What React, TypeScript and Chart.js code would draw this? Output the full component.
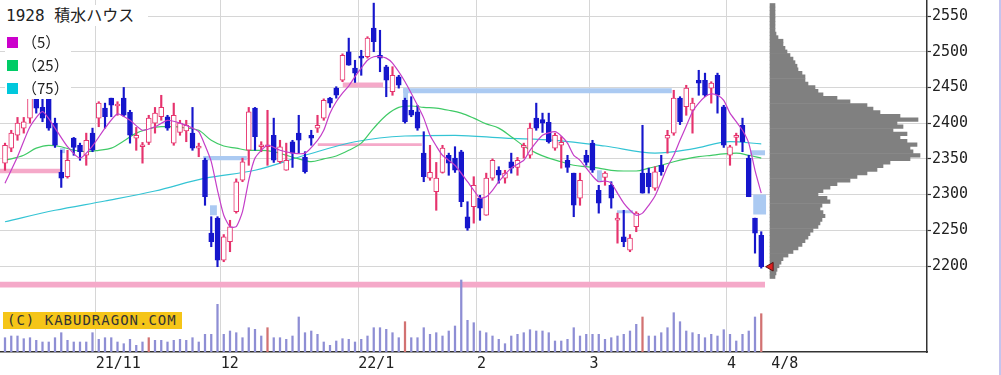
import React, { useEffect, useRef } from "react";
import { Chart, registerables } from "chart.js";

Chart.register(...registerables);

// ---------- daily candles (index 0 = first visible trading day) ----------
const opens = [
  2344, 2365, 2383, 2393, 2407, 2435, 2422, 2435, 2400, 2331,
  2325, 2379, 2369, 2355, 2386, 2407, 2421, 2435, 2424, 2435,
  2415, 2379, 2367, 2373, 2400, 2409, 2409, 2372, 2387, 2389,
  2386, 2365, 2348, 2246, 2267, 2208, 2234, 2276, 2320, 2362,
  2421, 2367, 2367, 2383, 2346, 2334, 2374, 2386, 2352, 2383,
  2393, 2407, 2435, 2449, 2460, 2500, 2477, 2493, 2493, 2533,
  2495, 2479, 2444, 2465, 2432, 2418, 2416, 2358, 2323, 2304,
  2331, 2355, 2351, 2360, 2269, 2283, 2295, 2271, 2323, 2334,
  2323, 2346, 2338, 2366, 2355, 2407, 2405, 2401, 2365, 2369,
  2348, 2330, 2295, 2355, 2372, 2306, 2324, 2313, 2264, 2241,
  2222, 2255, 2330, 2330, 2309, 2341, 2379, 2386, 2435, 2423,
  2418, 2460, 2460, 2449, 2467, 2423, 2355, 2380, 2397, 2351,
  2267, 2243,
];
const highs = [
  2372, 2390, 2408, 2408, 2439, 2438, 2435, 2435, 2407, 2362,
  2362, 2380, 2372, 2386, 2393, 2430, 2428, 2435, 2430, 2450,
  2418, 2394, 2373, 2411, 2422, 2439, 2411, 2428, 2404, 2404,
  2422, 2372, 2351, 2269, 2269, 2244, 2264, 2322, 2351, 2422,
  2422, 2374, 2418, 2407, 2376, 2372, 2376, 2411, 2360, 2390,
  2411, 2434, 2436, 2451, 2497, 2519, 2488, 2502, 2521, 2568,
  2530, 2481, 2479, 2467, 2435, 2437, 2425, 2388, 2369, 2345,
  2369, 2358, 2367, 2362, 2290, 2325, 2299, 2330, 2350, 2339,
  2334, 2358, 2352, 2372, 2400, 2428, 2414, 2414, 2386, 2381,
  2355, 2330, 2330, 2362, 2376, 2313, 2332, 2318, 2274, 2278,
  2244, 2276, 2397, 2337, 2339, 2355, 2390, 2446, 2437, 2453,
  2435, 2474, 2470, 2458, 2470, 2425, 2369, 2386, 2407, 2355,
  2267, 2248,
];
const lows = [
  2334, 2360, 2376, 2386, 2400, 2414, 2402, 2390, 2366, 2310,
  2323, 2355, 2348, 2341, 2360, 2395, 2393, 2409, 2411, 2409,
  2372, 2362, 2344, 2370, 2386, 2404, 2390, 2369, 2383, 2374,
  2362, 2353, 2285, 2227, 2199, 2206, 2220, 2274, 2318, 2341,
  2362, 2360, 2341, 2345, 2344, 2334, 2338, 2358, 2330, 2369,
  2387, 2404, 2422, 2435, 2458, 2481, 2457, 2467, 2491, 2500,
  2472, 2437, 2439, 2449, 2400, 2409, 2390, 2318, 2320, 2278,
  2330, 2327, 2331, 2283, 2250, 2260, 2264, 2271, 2320, 2316,
  2316, 2330, 2327, 2351, 2351, 2390, 2387, 2372, 2362, 2337,
  2331, 2269, 2285, 2341, 2331, 2274, 2313, 2281, 2232, 2227,
  2220, 2248, 2302, 2302, 2306, 2327, 2358, 2383, 2398, 2411,
  2386, 2439, 2437, 2428, 2414, 2366, 2341, 2369, 2360, 2297,
  2218, 2197,
];
const closes = [
  2369, 2386, 2400, 2402, 2435, 2421, 2407, 2393, 2369, 2323,
  2348, 2366, 2360, 2376, 2362, 2428, 2409, 2425, 2426, 2411,
  2383, 2383, 2369, 2407, 2414, 2422, 2393, 2411, 2400, 2397,
  2365, 2367, 2297, 2234, 2208, 2241, 2255, 2318, 2346, 2416,
  2381, 2369, 2369, 2348, 2367, 2348, 2358, 2376, 2332, 2379,
  2397, 2432, 2428, 2439, 2495, 2481, 2470, 2491, 2519, 2514,
  2491, 2460, 2467, 2453, 2402, 2411, 2393, 2325, 2331, 2323,
  2365, 2344, 2334, 2290, 2253, 2313, 2281, 2323, 2348, 2327,
  2330, 2337, 2348, 2368, 2393, 2393, 2400, 2374, 2383, 2373,
  2338, 2285, 2320, 2345, 2334, 2288, 2330, 2295, 2267, 2234,
  2239, 2274, 2302, 2311, 2332, 2332, 2383, 2435, 2402, 2449,
  2428, 2456, 2439, 2456, 2439, 2369, 2367, 2383, 2374, 2297,
  2246, 2199,
];
// volume, thousand shares
const volumes = [
  1430, 1600, 1600, 1330, 1430, 1170, 1000, 1000, 1430, 1930,
  1170, 1000, 1000, 1000, 1930, 1270, 1430, 1430, 1000, 830,
  1270, 670, 1000, 1430, 1170, 1170, 1000, 1170, 1270, 1170,
  1430, 1000, 1770, 1770, 4770, 1770, 2100, 1930, 1430, 2430,
  2270, 1600, 2430, 1430, 1430, 1270, 1600, 3500, 1930, 2100,
  1770, 1000, 670, 1100, 1330, 1270, 1000, 1270, 1600, 2430,
  2430, 2270, 1930, 1430, 3030, 1430, 1430, 2430, 1770, 1930,
  1600, 2100, 2600, 7200, 3170, 2930, 2100, 1930, 1600, 1270,
  830, 1600, 1770, 1930, 2230, 2100, 2100, 1930, 1100, 1100,
  1270, 2430, 1600, 1770, 1770, 1770, 1270, 1430, 1600, 1770,
  2100, 2770, 3500, 1600, 1600, 1930, 2430, 3930, 3030, 2100,
  1930, 1770, 1430, 1770, 1600, 2230, 1770, 1100, 1770, 2100,
  3500, 3830,
];
const redVolumeDays = [23, 42, 64, 102, 121];

// moving averages: [day index, value]
const ma5Points = [
  [0, 2316], [2, 2353], [4, 2395], [6, 2416], [8, 2393], [10, 2367], [12, 2351], [14, 2368],
  [16, 2393], [18, 2413], [20, 2404], [22, 2390], [24, 2395], [26, 2404], [28, 2400], [30, 2393],
  [31, 2388], [32, 2369], [33, 2346], [34, 2306], [35, 2271], [36, 2255], [37, 2255], [38, 2276],
  [39, 2320], [40, 2351], [42, 2369], [44, 2362], [46, 2358], [48, 2358], [50, 2376], [51, 2390],
  [52, 2414], [53, 2430], [54, 2442], [55, 2452], [56, 2465], [57, 2477], [58, 2488], [59, 2493],
  [60, 2493], [61, 2491], [62, 2484], [64, 2458], [66, 2425], [67, 2407], [68, 2383], [69, 2368],
  [70, 2355], [72, 2341], [74, 2318], [75, 2306], [76, 2295], [77, 2297], [78, 2306], [79, 2318],
  [81, 2337], [83, 2348], [84, 2362], [86, 2383], [88, 2388], [89, 2382], [90, 2372], [91, 2355],
  [92, 2348], [94, 2326], [95, 2318], [96, 2319], [97, 2316], [98, 2302], [99, 2288], [100, 2278],
  [101, 2271], [102, 2274], [103, 2285], [104, 2298], [105, 2318], [106, 2339], [107, 2355],
  [108, 2376], [109, 2396], [110, 2416], [111, 2428], [112, 2437], [113, 2441], [114, 2439],
  [115, 2432], [116, 2414], [117, 2402], [118, 2390], [119, 2372], [120, 2334], [121, 2302],
];
const ma25Points = [
  [0, 2348], [3, 2355], [5, 2365], [7, 2369], [9, 2367], [11, 2362], [13, 2360], [15, 2362],
  [17, 2365], [19, 2375], [21, 2386], [23, 2392], [25, 2395], [27, 2395], [29, 2393], [31, 2390],
  [33, 2376], [35, 2368], [37, 2365], [39, 2362], [41, 2362], [43, 2360], [45, 2355], [47, 2350],
  [49, 2346], [51, 2350], [53, 2354], [55, 2362], [57, 2372], [59, 2393], [61, 2411], [63, 2422],
  [65, 2424], [67, 2422], [69, 2421], [71, 2418], [73, 2414], [75, 2407], [77, 2399], [79, 2393],
  [81, 2381], [83, 2368], [85, 2358], [87, 2351], [89, 2346], [91, 2341], [93, 2339], [95, 2337],
  [97, 2334], [99, 2333], [101, 2333], [103, 2337], [105, 2341], [107, 2346], [109, 2350],
  [111, 2353], [113, 2355], [115, 2357], [117, 2358], [119, 2355], [121, 2351],
];
const ma75Points = [
  [0, 2262], [8, 2278], [16, 2291], [24, 2305], [32, 2323], [40, 2334], [48, 2355], [56, 2374],
  [64, 2382], [72, 2383], [80, 2379], [88, 2376], [96, 2368], [104, 2358], [110, 2364],
  [116, 2374], [121, 2371],
];

// support / resistance zones: [from day, to day, low price, high price]
const pinkZones = [
  [-0.8, 8.8, 2330, 2336],
  [54, 60.5, 2450, 2457],
  [50, 66.7, 2368, 2372],
  [-0.8, 121.6, 2170, 2178],
];
const blueZones = [
  [31.7, 38.7, 2348, 2354],
  [63.7, 106.7, 2442, 2449],
  [119.2, 121.6, 2355, 2362],
  [8.8, 9.6, 2358, 2365],
  [32.8, 33.9, 2271, 2285],
  [63.7, 64.5, 2432, 2449],
  [94.7, 95.5, 2318, 2334],
  [97.9, 100.5, 2274, 2278],
  [119.7, 121.8, 2272, 2300],
];

// volume-by-price profile
const profilePrices = [
  2565, 2560, 2555, 2550, 2545, 2540, 2535, 2530, 2525, 2520,
  2515, 2510, 2505, 2500, 2495, 2490, 2485, 2480, 2475, 2470,
  2465, 2460, 2455, 2450, 2445, 2440, 2435, 2430, 2425, 2420,
  2415, 2410, 2405, 2400, 2395, 2390, 2385, 2380, 2375, 2370,
  2365, 2360, 2355, 2350, 2345, 2340, 2335, 2330, 2325, 2320,
  2315, 2310, 2305, 2300, 2295, 2290, 2285, 2280, 2275, 2270,
  2265, 2260, 2255, 2250, 2245, 2240, 2235, 2230, 2225, 2220,
  2215, 2210, 2205, 2200, 2195, 2190, 2185,
];
const profileVolumes = [
  5, 5, 5, 5, 5, 5, 5, 5, 6, 8,
  13, 13, 15, 17, 20, 23, 25, 27, 28, 32,
  35, 35, 38, 45, 48, 53, 67, 80, 97, 103,
  110, 130, 148, 127, 133, 123, 137, 130, 137, 147,
  140, 143, 150, 140, 120, 113, 107, 97, 87, 80,
  67, 60, 53, 48, 57, 60, 52, 50, 53, 55,
  52, 50, 48, 43, 40, 38, 35, 32, 28, 23,
  18, 13, 11, 9, 7, 6, 5,
];
const lastPrice = 2199;
const lastPriceAt = 122.5;

const xTickPositions = [14.5, 34.5, 56.5, 75.5, 93.5, 115.5, 122.6];
const xTickLabels = ["21/11", "12", "22/1", "2", "3", "4", "4/8"];
const yTicks = [2200, 2250, 2300, 2350, 2400, 2450, 2500, 2550];

// ---------- styles ----------
const UP = "#e6336d";
const DOWN = "#1616cc";
const PINK = "#f5a9c9";
const BLUE = "#abcaf2";
const GRID = "#d6d6d6";
const Y_MIN = 2079.6;
const Y_MAX = 2572.4;

function buildConfig() {
  const idx = opens.map((_, i) => i);
  const up = idx.map((i) => closes[i] >= opens[i]);

  const zoneDatasets = [
    ...pinkZones.map((z) => ({ z, c: PINK })),
    ...blueZones.map((z) => ({ z, c: BLUE })),
  ].map(({ z, c }) => ({
    type: "line",
    data: [
      { x: z[0], y: z[3] },
      { x: z[1], y: z[3] },
    ],
    xAxisID: "x",
    yAxisID: "y",
    borderColor: "rgba(0,0,0,0)",
    borderWidth: 1,
    backgroundColor: c,
    fill: { value: z[2] },
    pointRadius: 0,
    order: 20,
  }));

  const datasets: any[] = [
    ...zoneDatasets,
    {
      type: "bar",
      indexAxis: "y",
      xAxisID: "xh",
      yAxisID: "yh",
      data: profilePrices.map((p, k) => ({ y: p, x: [0, profileVolumes[k]] })),
      backgroundColor: "#808080",
      borderWidth: 0,
      barPercentage: 1,
      categoryPercentage: 1,
      grouped: false,
      order: 19,
    },
    {
      type: "bar",
      xAxisID: "x",
      yAxisID: "yv",
      data: idx.map((i) => ({ x: i, y: volumes[i] })),
      backgroundColor: idx.map((i) => (redVolumeDays.includes(i) ? "#d27272" : "#8e8ed4")),
      borderWidth: 0,
      barThickness: 1.6,
      grouped: false,
      order: 18,
    },
    {
      type: "line",
      label: "(75)",
      data: ma75Points.map(([x, y]) => ({ x, y })),
      borderColor: "#34c4d4",
      borderWidth: 1.2,
      pointRadius: 0,
      cubicInterpolationMode: "monotone",
      fill: false,
      order: 12,
    },
    {
      type: "line",
      label: "(25)",
      data: ma25Points.map(([x, y]) => ({ x, y })),
      borderColor: "#3fca66",
      borderWidth: 1.2,
      pointRadius: 0,
      cubicInterpolationMode: "monotone",
      fill: false,
      order: 11,
    },
    {
      type: "bar",
      xAxisID: "x",
      yAxisID: "y",
      data: idx.map((i) => ({ x: i, y: [lows[i], highs[i]] })),
      backgroundColor: up.map((u) => (u ? UP : DOWN)),
      borderWidth: 0,
      barThickness: 1.5,
      grouped: false,
      order: 8,
    },
    {
      type: "bar",
      xAxisID: "x",
      yAxisID: "y",
      data: idx.map((i) => ({ x: i, y: [opens[i], closes[i]] })),
      backgroundColor: up.map((u) => (u ? "#ffffff" : DOWN)),
      borderColor: up.map((u) => (u ? UP : DOWN)),
      borderWidth: 1,
      borderSkipped: false,
      barThickness: 5,
      minBarLength: 2,
      grouped: false,
      order: 7,
    },
    {
      type: "line",
      label: "(5)",
      data: ma5Points.map(([x, y]) => ({ x, y })),
      borderColor: "#c43ec8",
      borderWidth: 1.2,
      pointRadius: 0,
      tension: 0.2,
      fill: false,
      order: 2,
    },
    {
      type: "line",
      data: [{ x: lastPriceAt, y: lastPrice }],
      showLine: false,
      pointStyle: "triangle",
      rotation: -90,
      pointRadius: 5,
      backgroundColor: "#e02020",
      borderColor: "#5a1010",
      borderWidth: 1,
      order: 0,
    },
  ];

  return {
    type: "bar",
    data: { datasets },
    options: {
      responsive: false,
      maintainAspectRatio: false,
      animation: false,
      devicePixelRatio: 1,
      events: [],
      layout: { padding: 0, autoPadding: false },
      plugins: { legend: { display: false }, tooltip: { enabled: false } },
      scales: {
        x: {
          type: "linear",
          position: "bottom",
          min: -0.8,
          max: 147.52,
          offset: false,
          grid: {
            offset: false,
            drawTicks: false,
            lineWidth: 1,
            color: (c: any) => (c.tick && c.tick.value === 122.6 ? "rgba(0,0,0,0)" : GRID),
          },
          border: { display: true, color: "#333", width: 1.5 },
          afterBuildTicks: (s: any) => {
            s.ticks = xTickPositions.map((v) => ({ value: v }));
          },
          afterFit: (s: any) => {
            s.height = 23;
            s.paddingLeft = 0;
            s.paddingRight = 0;
          },
          ticks: {
            autoSkip: false,
            maxRotation: 0,
            minRotation: 0,
            align: "start",
            padding: 3,
            color: "#222",
            font: { family: "'DejaVu Sans Mono', monospace", size: 15 },
            callback: (v: any) => {
              const k = xTickPositions.indexOf(v);
              return k >= 0 ? xTickLabels[k] : "";
            },
          },
        },
        y: {
          type: "linear",
          position: "right",
          min: Y_MIN,
          max: Y_MAX,
          offset: false,
          afterBuildTicks: (s: any) => {
            s.ticks = yTicks.map((v) => ({ value: v }));
          },
          afterFit: (s: any) => {
            s.width = 74;
            s.paddingTop = 0;
            s.paddingBottom = 0;
          },
          grid: { offset: false, color: GRID, lineWidth: 1, drawTicks: true, tickLength: 4, tickColor: "#333", tickWidth: 1.2 },
          border: { display: true, color: "#333", width: 1.5 },
          ticks: {
            padding: 1,
            color: "#222",
            font: { family: "'DejaVu Sans Mono', monospace", size: 15 },
            callback: (v: any) => String(v),
          },
        },
        yv: { type: "linear", axis: "y", position: "left", display: false, offset: false, min: 0, max: 35200 },
        yh: {
          type: "linear",
          axis: "y",
          position: "left",
          display: false,
          offset: false,
          grid: { offset: false },
          min: Y_MIN,
          max: Y_MAX,
        },
        xh: {
          type: "linear",
          axis: "x",
          position: "bottom",
          display: false,
          offset: false,
          grid: { offset: false },
          min: -770,
          max: 157,
        },
      },
    },
  };
}

const legendRows = [
  { label: "（5）", color: "#cc00cc" },
  { label: "（25）", color: "#00cc66" },
  { label: "（75）", color: "#00c8dc" },
];

export default function App() {
  const ref = useRef<HTMLCanvasElement>(null);

  useEffect(() => {
    document.body.style.margin = "0";
    const chart = new Chart(ref.current as HTMLCanvasElement, buildConfig() as any);
    return () => chart.destroy();
  }, []);

  return (
    <div style={{ position: "relative", width: 1001, height: 375, background: "#fff", overflow: "hidden" }}>
      <canvas ref={ref} width={1001} height={375} style={{ position: "absolute", left: 0, top: 0 }} />
      <div
        style={{
          position: "absolute",
          left: 0,
          top: 5,
          width: 142,
          height: 21,
          paddingLeft: 6,
          background: "#fff",
          color: "#222",
          font: "16px 'DejaVu Sans Mono', 'Noto Sans CJK JP', sans-serif",
          lineHeight: "21px",
          whiteSpace: "nowrap",
        }}
      >
        1928 積水ハウス
      </div>
      {legendRows.map((r, k) => (
        <div
          key={k}
          style={{
            position: "absolute",
            left: 5,
            top: 31 + k * 23,
            width: 66,
            height: 22,
            background: "#fff",
          }}
        >
          <span
            style={{
              position: "absolute",
              left: 2,
              top: 6,
              width: 11,
              height: 11,
              background: r.color,
            }}
          />
          <span
            style={{
              position: "absolute",
              left: 17,
              top: 0,
              lineHeight: "22px",
              font: "15px 'Noto Sans CJK JP', sans-serif",
              color: "#222",
              whiteSpace: "nowrap",
            }}
          >
            {r.label}
          </span>
        </div>
      ))}
      <div
        style={{
          position: "absolute",
          left: 3,
          top: 312,
          width: 175,
          height: 17,
          paddingLeft: 4,
          background: "#f5c518",
          color: "#333",
          font: "14px 'DejaVu Sans Mono', monospace",
          lineHeight: "17px",
          letterSpacing: "1px",
          whiteSpace: "nowrap",
        }}
      >
        (C) KABUDRAGON.COM
      </div>
      <div style={{ position: "absolute", left: 999, top: 0, width: 2, height: 375, background: "#c4c4ee" }} />
    </div>
  );
}
